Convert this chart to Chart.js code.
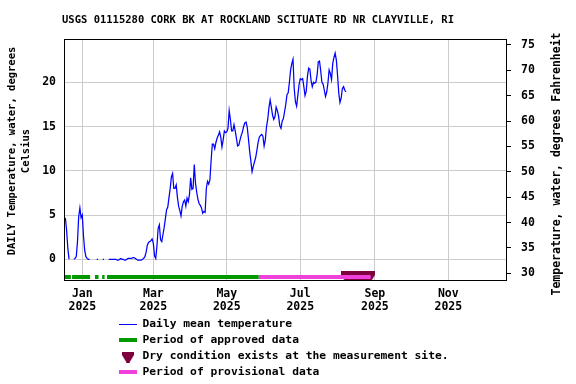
<!DOCTYPE html>
<html>
<head>
<meta charset="utf-8">
<script src="https://cdn.jsdelivr.net/npm/chart.js@4.4.1/dist/chart.umd.min.js"></script>
<style>
  html, body { margin: 0; padding: 0; background: #fff; }
  #wrap { width: 576px; height: 384px; }
</style>
</head>
<body>
<div id="wrap"><canvas id="myChart" width="576" height="384"></canvas></div>
<script>
'use strict';

const chartTitle = 'USGS 01115280 CORK BK AT ROCKLAND SCITUATE RD NR CLAYVILLE, RI';
const leftAxisTitle = ['DAILY Temperature, water, degrees', 'Celsius'];
const rightAxisTitle = 'Temperature, water, degrees Fahrenheit';

// daily mean water temperature (deg C), one value per day starting at firstDay
const firstDay = '2024-12-17';
const dailyMean = [
  4.5, 4.6, 3.2, 1.2, 0.0, null, null, null, 0.0, 0.1, 0.3, 2.0, 4.8, 5.8, 4.7,
  5.0, 2.6, 1.0, 0.3, 0.1, 0.0, 0.0, null, null, null, null, null, 0.0, 0.0, null,
  null, null, 0.0, 0.0, null, null, null, 0.0, 0.0, 0.0, 0.0, 0.0, 0.0, 0.0,
  -0.1, -0.1, 0.0, 0.1, 0.0, 0.0, -0.1, -0.1, 0.0, 0.1, 0.1, 0.1, 0.1, 0.2, 0.2,
  0.1, 0.0, -0.1, -0.1, -0.1, -0.1, 0.0, 0.1, 0.3, 0.8, 1.6, 1.9, 2.0, 2.1, 2.3,
  1.8, 0.4, 0.1, 1.5, 3.5, 3.9, 2.2, 2.0, 2.8, 3.6, 4.6, 5.6, 5.9,
  7.0, 8.0, 9.3, 9.7, 8.0, 8.0, 8.4, 7.0, 6.0, 5.5,
  4.9, 6.0, 6.5, 6.7, 6.0, 6.9, 6.5, 7.3, 9.2, 7.9,
  8.0, 10.7, 8.6, 7.6, 6.8, 6.3, 6.1, 5.8, 5.2, 5.4,
  5.3, 8.0, 8.8, 8.5, 9.0, 11.2, 13.0, 13.0, 12.5, 13.2,
  13.7, 14.0, 14.4, 13.8, 12.7, 13.5, 14.5, 14.3, 14.4, 14.8,
  16.8, 15.8, 14.5, 14.5, 15.2, 14.5, 13.7, 12.8, 12.9, 13.5,
  14.0, 14.4, 15.0, 15.4, 15.5, 14.9, 13.6, 12.2, 11.1, 9.9,
  10.5, 11.0, 11.5, 12.3, 13.2, 13.8, 14.0, 14.1, 13.9, 12.8,
  13.5, 15.0, 15.8, 17.1, 18.0, 17.2, 16.3, 15.8, 16.1, 17.2,
  16.8, 16.2, 15.1, 14.8, 15.6, 15.9, 16.7, 17.5, 18.6, 18.8,
  20.0, 21.4, 22.1, 22.6, 19.3, 17.8, 17.3, 18.5, 19.7, 20.4,
  20.3, 20.4, 19.5, 18.5, 19.0, 20.7, 21.6, 21.5, 20.2, 19.5,
  20.0, 19.9, 20.0, 20.8, 22.3, 22.4, 21.3, 20.0, 19.8, 19.1,
  18.4, 18.9, 19.9, 21.4, 21.0, 20.3, 22.1, 22.8, 23.3, 22.5,
  20.8, 18.8, 17.7, 18.2, 19.3, 19.5, 19.1, 18.9,
];

const approvedPeriods = [
  ['2024-12-17', '2024-12-22'],
  ['2024-12-24', '2025-01-07'],
  ['2025-01-12', '2025-01-14'],
  ['2025-01-18', '2025-01-19'],
  ['2025-01-22', '2025-05-27'],
];
const provisionalPeriods = [
  ['2025-05-28', '2025-08-28'],
];
const dryPeriod = ['2025-08-09', '2025-08-27'];

const monthTicks = ['2025-01-01', '2025-03-01', '2025-05-01', '2025-07-01', '2025-09-01', '2025-11-01'];
const monthLabels = ['Jan', 'Mar', 'May', 'Jul', 'Sep', 'Nov'];
const yearLabels = ['2025', '2025', '2025', '2025', '2025', '2025'];
const celsiusTicks = [0, 5, 10, 15, 20];
const fahrenheitTicks = [30, 35, 40, 45, 50, 55, 60, 65, 70, 75];

const legendLabels = [
  'Daily mean temperature',
  'Period of approved data',
  'Dry condition exists at the measurement site.',
  'Period of provisional data',
];

const lineColor = '#0000ff';
const approvedColor = '#009a00';
const provisionalColor = '#f040dc';
const dryColor = '#7f003f';
const gridColor = '#cccccc';
const fontFamily = "'DejaVu Sans Mono', monospace";
const tickFont = { family: fontFamily, size: 11.5, weight: 'bold', lineHeight: 1.15 };

// days counted from 2025-01-01
function dayOf(s) {
  return (Date.parse(s + 'T00:00:00Z') - Date.parse('2025-01-01T00:00:00Z')) / 86400000;
}

const barLevel = -2.0;
const start = dayOf(firstDay);

function periodLine(periods) {
  const pts = [];
  periods.forEach(([s, e]) => {
    pts.push({ x: dayOf(s) - 0.5, y: barLevel });
    pts.push({ x: dayOf(e) + 0.5, y: barLevel });
    pts.push({ x: dayOf(e) + 1, y: null });
  });
  return pts;
}

const dryDays = [];
for (let d = dayOf(dryPeriod[0]); d <= dayOf(dryPeriod[1]); d++) {
  dryDays.push({ x: d, y: barLevel });
}

// shield marker used for the dry condition symbol
const shield = document.createElement('canvas');
shield.width = 12;
shield.height = 11;
(function () {
  const c = shield.getContext('2d');
  c.fillStyle = dryColor;
  c.beginPath();
  c.moveTo(0, 0);
  c.lineTo(12, 0);
  c.lineTo(12, 3.5);
  c.lineTo(7.5, 11);
  c.lineTo(4.5, 11);
  c.lineTo(0, 3.5);
  c.closePath();
  c.fill();
})();

const decorations = {
  id: 'decorations',
  afterDraw(chart) {
    const ctx = chart.ctx;
    const a = chart.chartArea;
    ctx.save();

    // plot frame
    ctx.strokeStyle = '#000';
    ctx.lineWidth = 1;
    ctx.strokeRect(Math.round(a.left) + 0.5, Math.round(a.top) + 0.5,
      Math.round(a.right - a.left), Math.round(a.bottom - a.top));

    ctx.fillStyle = '#000';
    ctx.textBaseline = 'middle';
    ctx.textAlign = 'center';

    // title
    ctx.font = 'bold 10.5px ' + fontFamily;
    ctx.fillText(chartTitle, 258, 20);

    // left axis title
    ctx.save();
    ctx.translate(12, 151);
    ctx.rotate(-Math.PI / 2);
    ctx.fillText(leftAxisTitle[0], 0, 0);
    ctx.translate(0, 14);
    ctx.fillText(leftAxisTitle[1], 0, 0);
    ctx.restore();

    // right axis title
    ctx.save();
    ctx.font = 'bold 11.5px ' + fontFamily;
    ctx.translate(557.5, 164);
    ctx.rotate(-Math.PI / 2);
    ctx.fillText(rightAxisTitle, 0, 0);
    ctx.restore();

    // legend
    ctx.font = 'bold 11.3px ' + fontFamily;
    ctx.textAlign = 'left';
    const lx = 119, tx = 142.5;
    const rows = [324, 340, 356, 372];

    ctx.strokeStyle = lineColor;
    ctx.lineWidth = 1;
    ctx.beginPath();
    ctx.moveTo(lx, rows[0] + 0.5);
    ctx.lineTo(lx + 18, rows[0] + 0.5);
    ctx.stroke();

    ctx.lineWidth = 4;
    ctx.strokeStyle = approvedColor;
    ctx.beginPath();
    ctx.moveTo(lx, rows[1]);
    ctx.lineTo(lx + 18, rows[1]);
    ctx.stroke();

    ctx.drawImage(shield, lx + 3, rows[2] - 4.5);

    ctx.strokeStyle = provisionalColor;
    ctx.beginPath();
    ctx.moveTo(lx, rows[3]);
    ctx.lineTo(lx + 18, rows[3]);
    ctx.stroke();

    legendLabels.forEach((t, i) => ctx.fillText(t, tx, rows[i]));
    ctx.restore();
  },
};

const config = {
  type: 'line',
  data: {
    datasets: [
      {
        label: legendLabels[0],
        data: dailyMean.map((v, i) => ({ x: start + i, y: v })),
        borderColor: lineColor,
        borderWidth: 1.25,
        pointRadius: 0,
        tension: 0,
        order: 0,
      },
      {
        label: legendLabels[1],
        data: periodLine(approvedPeriods),
        borderColor: approvedColor,
        borderWidth: 4,
        borderCapStyle: 'butt',
        pointRadius: 0,
        order: 1,
      },
      {
        label: legendLabels[3],
        data: periodLine(provisionalPeriods),
        borderColor: provisionalColor,
        borderWidth: 4,
        borderCapStyle: 'butt',
        pointRadius: 0,
        order: 1,
      },
      {
        label: legendLabels[2],
        data: dryDays,
        showLine: false,
        pointStyle: shield,
        pointRadius: 6,
        backgroundColor: dryColor,
        borderColor: dryColor,
        order: 2,
      },
    ],
  },
  options: {
    responsive: false,
    animation: false,
    events: [],
    layout: { padding: { top: 39, bottom: 74, left: 0, right: 0 } },
    plugins: {
      legend: { display: false },
      title: { display: false },
      tooltip: { enabled: false },
    },
    scales: {
      x: {
        type: 'linear',
        min: -15.2,
        max: 351.9,
        afterBuildTicks: (axis) => { axis.ticks = monthTicks.map((d) => ({ value: dayOf(d) })); },
        afterFit: (axis) => { axis.height = 30; },
        grid: { color: gridColor, drawTicks: false },
        border: { display: false },
        ticks: {
          padding: 7,
          color: '#000',
          font: tickFont,
          autoSkip: false,
          maxRotation: 0,
          callback: (value, i) => [monthLabels[i], yearLabels[i]],
        },
      },
      y: {
        position: 'left',
        min: -2.34,
        max: 24.89,
        afterBuildTicks: (axis) => { axis.ticks = celsiusTicks.map((v) => ({ value: v })); },
        afterFit: (axis) => { axis.width = 64; },
        grid: { color: gridColor, drawTicks: false },
        border: { display: false },
        ticks: { padding: 8, color: '#000', font: tickFont },
      },
      y2: {
        position: 'right',
        min: 28.68,
        max: 76.18,
        afterBuildTicks: (axis) => { axis.ticks = fahrenheitTicks.map((v) => ({ value: v })); },
        afterFit: (axis) => { axis.width = 70; },
        grid: { drawOnChartArea: false, drawTicks: true, tickLength: 5, tickColor: '#000' },
        border: { display: false },
        ticks: { padding: 10, color: '#000', font: tickFont },
      },
    },
  },
  plugins: [decorations],
};

const myChart = new Chart(document.getElementById('myChart'), config);
</script>
</body>
</html>
